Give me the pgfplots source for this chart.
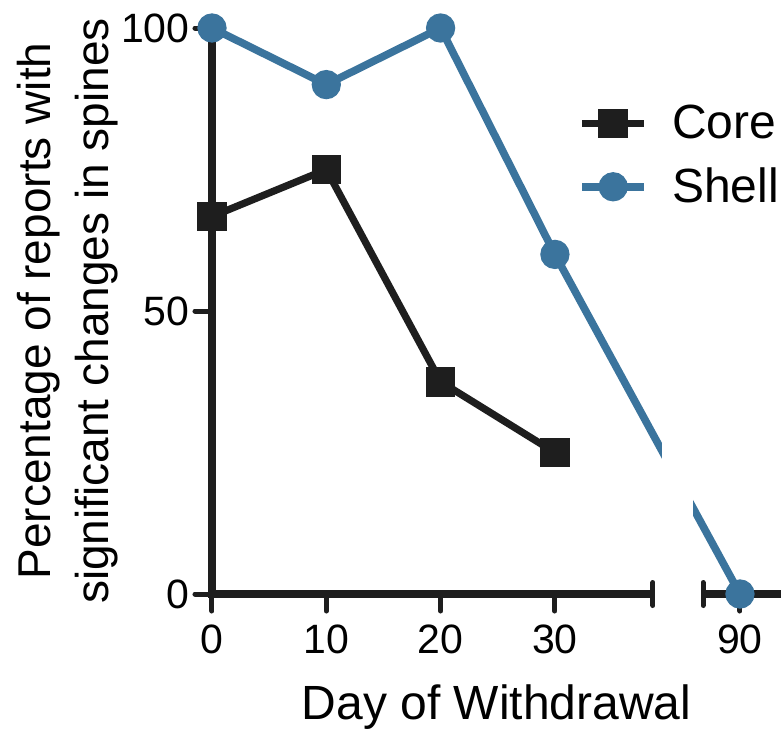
\documentclass[border=0pt]{standalone}
\usepackage{pgfplots}
\pgfplotsset{compat=1.18}
\usepackage{fontspec}
\setmainfont{Liberation Sans}
\definecolor{shell}{RGB}{59,116,157}
\definecolor{core}{RGB}{30,30,30}
\begin{document}
\begin{tikzpicture}
\begin{axis}[
  scale only axis, width=284.5pt, height=283pt,
  xmin=0, xmax=49.78, ymin=0, ymax=100,
  clip=false,
  axis line style={draw=none},
  tick pos=left, tick align=outside,
  major tick length=8.5pt,
  tick style={line width=2.5pt, color=core, line cap=round},
  xtick={0,10,20,30,46.19}, xticklabels={0,10,20,30,90},
  ytick={0,50,100}, yticklabels={0,50,100},
  tick label style={font=\fontsize{20.5}{24}\selectfont, inner sep=0pt},
  xticklabel style={anchor=north, yshift=-6.5pt},
  yticklabel style={anchor=east, xshift=-2.5pt},
  xlabel={Day of Withdrawal},
  xlabel style={font=\fontsize{24}{28}\selectfont, at={(axis description cs:0.5,0)}, anchor=base, yshift=-62.5pt, inner sep=0pt},
  ylabel={Percentage of reports with\\significant changes in spines},
  ylabel style={font=\fontsize{23}{29}\selectfont, align=center, at={(axis description cs:-0.3427,0.5)}, anchor=north, inner sep=0pt},
  legend style={draw=none, fill=none, at={(axis cs:32.02,77.47)}, anchor=west,
    font=\fontsize{24}{28}\selectfont, row sep=13pt, inner sep=0pt, column sep=12pt,
    nodes={inner sep=0pt}},
  legend cell align=left,
  legend image code/.code={\draw[mark repeat=2,mark phase=2,#1] plot coordinates {(0pt,0pt) (15.5pt,0pt) (31pt,0pt)};},
]
\draw[core, line width=3.6pt] (axis cs:0,100) -- (axis cs:0,0) -- (axis cs:38.58,0);
\draw[core, line width=3.6pt] (axis cs:42.96,0) -- (axis cs:52,0);
\draw[core, line width=2.5pt, line cap=round] (axis cs:38.58,0) ++(0,-5.75pt) -- ++(0,11.5pt);
\draw[core, line width=2.5pt, line cap=round] (axis cs:42.96,0) ++(0,-5.75pt) -- ++(0,11.5pt);
\addplot[core, line width=3.6pt, mark=square*, mark size=5.6pt, mark options={solid}] coordinates {(0,66.7) (10,75) (20,37.5) (30,25)};
\addlegendentry{Core}
\addplot[shell, line width=3.8pt, mark=*, mark size=5.4pt, mark options={solid}] coordinates {(0,100) (10,90) (20,100) (30,60) (46.19,0)};
\addlegendentry{Shell}
\fill[white] (axis cs:39.37,10) rectangle (axis cs:42.08,32);
\coordinate (O) at (axis cs:0,0);
\end{axis}
\pgfresetboundingbox
\path[use as bounding box] ([shift={(-106pt,-67.5pt)}]O) rectangle ([shift={(284.5pt,297pt)}]O);
\end{tikzpicture}
\end{document}
